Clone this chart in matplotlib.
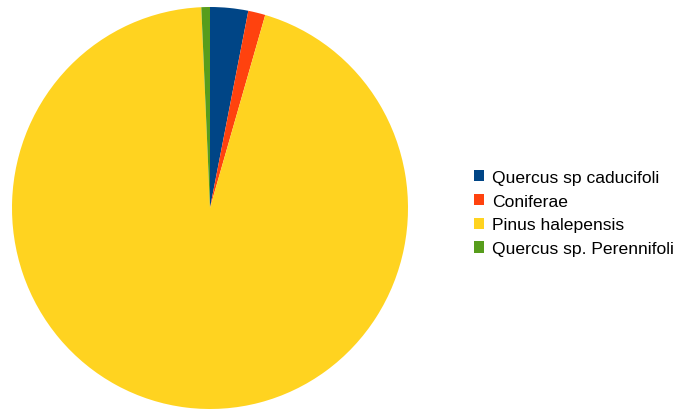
import matplotlib.pyplot as plt
from matplotlib.patches import Patch

# Species share
labels = ["Quercus sp caducifoli", "Coniferae", "Pinus halepensis", "Quercus sp. Perennifoli"]
values = [3.1, 1.4, 94.8, 0.7]
colors = ["#004586", "#ff420e", "#ffd320", "#579d1c"]

plt.rcParams["font.family"] = ["Liberation Sans", "DejaVu Sans"]

fig = plt.figure(figsize=(6.79, 4.14), dpi=100)
ax = fig.add_axes([12 / 679, 4 / 414, 396 / 679, 402 / 414])
ax.pie(values, colors=colors, startangle=90, counterclock=False,
       wedgeprops=dict(linewidth=0))
ax.set_xlim(-1, 1)
ax.set_ylim(-1, 1)
ax.set_aspect("auto")

handles = [Patch(facecolor=c, edgecolor="none") for c in colors]
fig.legend(handles, labels, loc="center left", bbox_to_anchor=(458 / 679, 0.483),
           frameon=False, fontsize=12.6, handlelength=0.6, handleheight=0.6,
           handletextpad=0.45, labelspacing=0.5)

fig.savefig("out.png", dpi=100)
